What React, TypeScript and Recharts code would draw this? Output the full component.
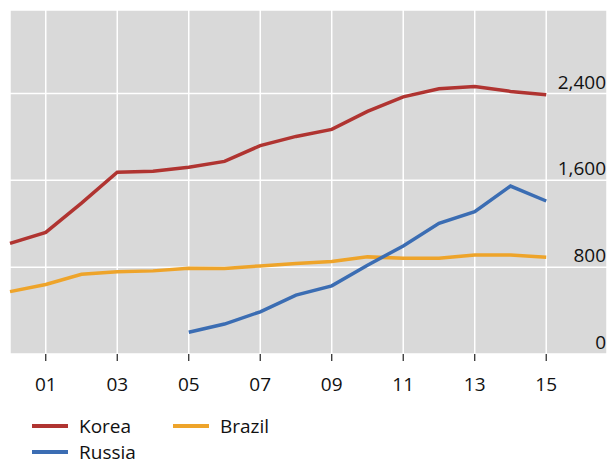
import React from 'react';
import { LineChart, Line, XAxis, YAxis, CartesianGrid } from 'recharts';

// Years on the x axis
const YEARS = [2000, 2001, 2002, 2003, 2004, 2005, 2006, 2007, 2008, 2009, 2010, 2011, 2012, 2013, 2014, 2015];

// Series values
const KOREA = [1020, 1120, 1390, 1675, 1685, 1720, 1775, 1920, 2005, 2070, 2235, 2370, 2445, 2465, 2420, 2390];
const BRAZIL = [575, 640, 735, 757, 766, 790, 788, 812, 834, 852, 895, 883, 883, 913, 913, 892];
const RUSSIA = [null, null, null, null, null, 200, 276, 389, 543, 628, 818, 996, 1205, 1312, 1548, 1410];

const X_TICKS = [2001, 2003, 2005, 2007, 2009, 2011, 2013, 2015];
const Y_TICKS = [0, 800, 1600, 2400];

const COLORS = { korea: '#b03431', russia: '#3b6db3', brazil: '#eea42a' };
const FONT = '"Open Sans", "Noto Sans", sans-serif';

const data = YEARS.map((year, i) => ({
  year,
  korea: KOREA[i],
  brazil: BRAZIL[i],
  russia: RUSSIA[i],
}));

// x tick: short mark below the plot + two-digit year
const XTick = (props: any) => {
  const { x, y, payload } = props;
  const label = String(payload.value % 100).padStart(2, '0');
  return (
    <g>
      <line x1={x} x2={x} y1={y - 8} y2={y - 1} stroke="#222" strokeWidth={1.2} />
      <text x={x} y={y + 29} textAnchor="middle" fontSize={19} fontFamily={FONT} fill="#111">
        {label}
      </text>
    </g>
  );
};

// y tick: label sits above its gridline, flush with the right edge
const YTick = (props: any) => {
  const { y, payload } = props;
  return (
    <text x={606} y={y - 5} textAnchor="end" fontSize={19} fontFamily={FONT} fill="#111">
      {Number(payload.value).toLocaleString('en-US')}
    </text>
  );
};

const LEGEND = [
  { name: 'Korea', color: COLORS.korea, left: 32, top: 426 },
  { name: 'Brazil', color: COLORS.brazil, left: 173, top: 426 },
  { name: 'Russia', color: COLORS.russia, left: 32, top: 452 },
];

const App = () => {
  return (
    <div style={{ position: 'absolute', left: 0, top: 0, width: 607, height: 461 }}>
      <LineChart width={607} height={461} data={data} margin={{ top: 10, right: 0, left: 10, bottom: 67 }}>
        <CartesianGrid fill="#d9d9d9" stroke="#ffffff" strokeWidth={1.5} />
        <XAxis
          dataKey="year"
          type="number"
          domain={[2000, 2016.7]}
          ticks={X_TICKS}
          interval={0}
          height={40}
          axisLine={false}
          tickLine={false}
          tick={<XTick />}
        />
        <YAxis
          orientation="right"
          mirror
          width={1}
          type="number"
          domain={[0, 3170]}
          ticks={Y_TICKS}
          interval={0}
          axisLine={false}
          tickLine={false}
          tick={YTick}
        />
        <Line dataKey="korea" stroke={COLORS.korea} strokeWidth={3.5} dot={false} isAnimationActive={false} />
        <Line dataKey="brazil" stroke={COLORS.brazil} strokeWidth={3.5} dot={false} isAnimationActive={false} />
        <Line dataKey="russia" stroke={COLORS.russia} strokeWidth={3.5} dot={false} isAnimationActive={false} />
      </LineChart>

      {/* legend */}
      {LEGEND.map((item) => (
        <div
          key={item.name}
          style={{ position: 'absolute', left: item.left, top: item.top - 11, height: 22, display: 'flex', alignItems: 'center' }}
        >
          <span style={{ display: 'inline-block', width: 36, height: 4, background: item.color, marginRight: 11 }} />
          <span style={{ fontFamily: FONT, fontSize: 19, lineHeight: '22px', color: '#111' }}>{item.name}</span>
        </div>
      ))}
    </div>
  );
};

export default App;
